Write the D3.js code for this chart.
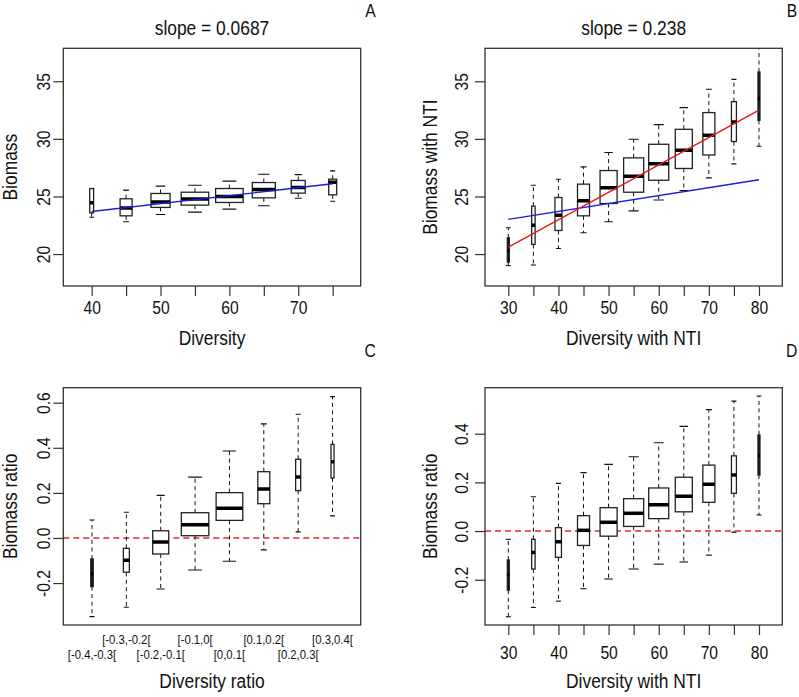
<!DOCTYPE html>
<meta charset="utf-8">
<style>
body { margin: 0; background: #fff; }
text { font-family: "Liberation Sans", Arial, sans-serif; fill: #111; }
</style>
<body>
  <div id="box1"></div>
</body>
<script src="https://d3js.org/d3.v7.min.js"></script>
<script>

// ---- panel A : Biomass vs Diversity
var divA   = [40, 45, 50, 55, 60, 65, 70, 75]
var loA    = [23.2, 22.8, 23.44, 23.64, 23.9, 24.19, 24.85, 24.59]
var q1A    = [23.58, 23.32, 24.05, 24.25, 24.48, 24.88, 25.29, 25.14]
var medA   = [24.45, 24.0, 24.53, 24.79, 25.0, 25.6, 25.78, 26.24]
var q3A    = [25.69, 24.8, 25.26, 25.37, 25.69, 26.21, 26.39, 26.5]
var hiA    = [25.69, 25.55, 25.9, 25.98, 26.33, 26.93, 26.9, 27.22]
var nA     = [10, 95, 240, 500, 500, 350, 130, 42]

// ---- panel B : Biomass with NTI vs Diversity with NTI
var divB   = [30, 35, 40, 45, 50, 55, 60, 65, 70, 75, 80]
var loB    = [19.0, 19.05, 20.49, 21.85, 22.8, 23.75, 24.7, 25.52, 26.61, 27.83, 29.36]
var q1B    = [19.3, 20.84, 22.05, 23.32, 24.39, 25.37, 26.41, 27.43, 28.6, 29.77, 31.61]
var medB   = [20.3, 22.51, 23.38, 24.62, 25.75, 26.76, 27.83, 29.01, 30.31, 31.46, 33.5]
var q3B    = [21.41, 24.16, 24.91, 26.07, 27.25, 28.35, 29.53, 30.83, 32.28, 33.23, 35.8]
var hiB    = [22.28, 25.98, 26.5, 27.57, 28.81, 29.97, 31.24, 32.71, 34.3, 35.16, 38.5]
var nB     = [5, 15, 61, 180, 361, 500, 500, 361, 180, 31, 5]

// fitted lines (intercept, slope)
var fitBlue = [20.95, 0.0687]
var fitRed  = [13.46, 0.238]

// ---- panel C : Biomass ratio vs Diversity ratio (classes)
var classC = ["[-0.4,-0.3[", "[-0.3,-0.2[", "[-0.2,-0.1[", "[-0.1,0[", "[0,0.1[", "[0.1,0.2[", "[0.2,0.3[", "[0.3,0.4["]
var loC    = [-0.349, -0.307, -0.226, -0.142, -0.103, -0.053, 0.027, 0.098]
var q1C    = [-0.216, -0.152, -0.071, 0.01, 0.078, 0.152, 0.21, 0.266]
var medC   = [-0.16, -0.099, -0.018, 0.059, 0.132, 0.217, 0.27, 0.338]
var q3C    = [-0.093, -0.046, 0.032, 0.112, 0.201, 0.294, 0.349, 0.415]
var hiC    = [0.08, 0.114, 0.189, 0.27, 0.386, 0.506, 0.549, 0.627]
var nC     = [4, 24, 170, 500, 470, 95, 17, 6]

// ---- panel D : Biomass ratio vs Diversity with NTI
var divD   = [30, 35, 40, 45, 50, 55, 60, 65, 70, 75, 80]
var loD    = [-0.352, -0.314, -0.288, -0.237, -0.197, -0.156, -0.136, -0.127, -0.099, -0.005, 0.066]
var q1D    = [-0.243, -0.156, -0.108, -0.059, -0.021, 0.019, 0.051, 0.079, 0.118, 0.155, 0.23]
var medD   = [-0.18, -0.088, -0.044, 0.003, 0.036, 0.073, 0.108, 0.143, 0.192, 0.23, 0.31]
var q3D    = [-0.119, -0.034, 0.014, 0.063, 0.096, 0.133, 0.177, 0.221, 0.271, 0.309, 0.395]
var hiD    = [-0.034, 0.141, 0.196, 0.24, 0.274, 0.305, 0.363, 0.43, 0.499, 0.534, 0.555]
var nD     = [5, 15, 45, 180, 361, 500, 500, 361, 180, 31, 5]

var ticksBio   = [20, 25, 30, 35]
var ticksRatC  = [-0.2, 0, 0.2, 0.4, 0.6]
var ticksRatD  = [-0.2, 0, 0.2, 0.4]


var width = 799, height = 697
var squeeze = 0.87

var svg = d3.select('#box1').append('svg')
    .attr('width', width)
    .attr('height', height)

function label(g, x, y, s, size, rot, anchor) {
  return g.append('text')
    .attr('transform', 'translate(' + x + ',' + y + ') rotate(' + (rot || 0) + ') scale(' + squeeze + ',1)')
    .attr('text-anchor', anchor || 'middle')
    .style('font-size', size + 'px')
    .text(s)
}

function drawPanel(p) {
  var x = d3.scaleLinear().domain(p.xdom).range([p.left, p.right])
  var y = d3.scaleLinear().domain(p.ydom).range([p.bottom, p.top])
  var step = Math.abs(x(p.at[1]) - x(p.at[0]))
  var w = d3.scaleSqrt().domain([0, d3.max(p.n)]).range([0, 0.8 * step])

  var rows = p.at.map(function(a, i) {
    return {x: a, lo: p.lo[i], q1: p.q1[i], med: p.med[i], q3: p.q3[i], hi: p.hi[i], w: w(p.n[i])}
  })

  svg.append('clipPath').attr('id', 'clip' + p.name)
    .append('rect')
      .attr('x', p.left).attr('y', p.top)
      .attr('width', p.right - p.left).attr('height', p.bottom - p.top)

  var g = svg.append('g').attr('clip-path', 'url(#clip' + p.name + ')')

  if (p.zero) {
    g.append('line')
      .attr('x1', p.left).attr('x2', p.right)
      .attr('y1', y(0)).attr('y2', y(0))
      .attr('stroke', '#e8262a').attr('stroke-width', 1.4)
      .attr('stroke-dasharray', '6,4')
  }

  // whiskers
  g.selectAll('.wu').data(rows.filter(d => d.hi > d.q3)).join('line')
    .attr('x1', d => x(d.x)).attr('x2', d => x(d.x))
    .attr('y1', d => y(d.q3)).attr('y2', d => y(d.hi))
    .attr('stroke', '#111').attr('stroke-dasharray', '4,3.5')
  g.selectAll('.wl').data(rows.filter(d => d.lo < d.q1)).join('line')
    .attr('x1', d => x(d.x)).attr('x2', d => x(d.x))
    .attr('y1', d => y(d.q1)).attr('y2', d => y(d.lo))
    .attr('stroke', '#111').attr('stroke-dasharray', '4,3.5')

  // staples
  ;['hi', 'lo'].forEach(function(k) {
    g.selectAll('.st' + k).data(rows).join('line')
      .attr('x1', d => x(d.x) - Math.max(d.w / 4, 2.5))
      .attr('x2', d => x(d.x) + Math.max(d.w / 4, 2.5))
      .attr('y1', d => y(d[k])).attr('y2', d => y(d[k]))
      .attr('stroke', '#111').attr('stroke-width', 1.1)
  })

  // boxes (very narrow ones collapse into a solid bar, as in R)
  g.selectAll('.box').data(rows).join('rect')
    .attr('x', d => x(d.x) - d.w / 2)
    .attr('width', d => d.w)
    .attr('y', d => y(d.q3))
    .attr('height', d => y(d.q1) - y(d.q3))
    .attr('fill', d => d.w < 3 ? '#111' : '#fff')
    .attr('stroke', '#222').attr('stroke-width', 1.3)

  g.selectAll('.med').data(rows).join('line')
    .attr('x1', d => x(d.x) - d.w / 2).attr('x2', d => x(d.x) + d.w / 2)
    .attr('y1', d => y(d.med)).attr('y2', d => y(d.med))
    .attr('stroke', '#000').attr('stroke-width', 3.5)

  // fitted lines
  ;(p.fits || []).forEach(function(f) {
    var x0 = p.at[0], x1 = p.at[p.at.length - 1]
    g.append('line')
      .attr('x1', x(x0)).attr('x2', x(x1))
      .attr('y1', y(f.coef[0] + f.coef[1] * x0))
      .attr('y2', y(f.coef[0] + f.coef[1] * x1))
      .attr('stroke', f.color).attr('stroke-width', 1.4)
  })

  // frame
  svg.append('rect')
    .attr('x', p.left).attr('y', p.top)
    .attr('width', p.right - p.left).attr('height', p.bottom - p.top)
    .attr('fill', 'none').attr('stroke', '#333').attr('stroke-width', 1.3)

  // y axis
  var ya = svg.append('g')
    .attr('transform', 'translate(' + p.left + ',0)')
    .call(d3.axisLeft(y).tickValues(p.yticks).tickSize(10).tickSizeOuter(0)
      .tickFormat(p.yfmt))
  ya.select('.domain').remove()
  ya.selectAll('line').attr('stroke', '#333').attr('stroke-width', 1.2)
  ya.selectAll('text')
    .attr('x', null).attr('dy', null)
    .attr('text-anchor', 'middle')
    .attr('transform', 'translate(' + (-p.ylabOff) + ',0) rotate(-90) scale(' + squeeze + ',1)')
    .style('font-size', '18px').style('font-family', null).attr('fill', '#111')

  // x axis
  if (p.xticks) {
    var xa = svg.append('g')
      .attr('transform', 'translate(0,' + p.bottom + ')')
      .call(d3.axisBottom(x).tickValues(p.xticks).tickSize(10).tickSizeOuter(0)
        .tickFormat(d => d % 10 === 0 ? d : ''))
    xa.select('.domain').remove()
    xa.selectAll('line').attr('stroke', '#333').attr('stroke-width', 1.2)
    xa.selectAll('text')
      .attr('y', null).attr('dy', null)
      .attr('transform', 'translate(0,' + p.xlabOff + ') scale(' + squeeze + ',1)')
      .style('font-size', '18px').style('font-family', null).attr('fill', '#111')
  }
  if (p.classes) {
    p.classes.forEach(function(c, i) {
      label(svg, x(p.at[i]), p.bottom + (i % 2 === 0 ? 34 : 19), c, 13)
    })
  }

  // titles
  var cx = (p.left + p.right) / 2
  label(svg, cx, p.bottom + p.xtitleOff, p.xtitle, 20)
  label(svg, p.left - p.ytitleOff, (p.top + p.bottom) / 2, p.ytitle, 20, -90)
  if (p.title) label(svg, cx, 35, p.title, 20)
  label(svg, p.right + 15, p.top - 31, p.letter, 18, 0, 'end')
}

var fmt1 = d => d.toFixed(1)

drawPanel({name: 'A', left: 63.3, right: 360.7, top: 48.3, bottom: 286,
  xdom: [35.88, 79.07], ydom: [17.23, 37.86],
  at: divA, lo: loA, q1: q1A, med: medA, q3: q3A, hi: hiA, n: nA,
  fits: [{coef: fitBlue, color: '#1c1cd6'}],
  xticks: divA, yticks: ticksBio, yfmt: d => d,
  ylabOff: 13.5, xlabOff: 28, ytitleOff: 46, xtitleOff: 59,
  xtitle: 'Diversity', ytitle: 'Biomass', title: 'slope = 0.0687', letter: 'A'})

drawPanel({name: 'B', left: 485, right: 782.3, top: 48.3, bottom: 286,
  xdom: [25.35, 84.65], ydom: [17.23, 37.86],
  at: divB, lo: loB, q1: q1B, med: medB, q3: q3B, hi: hiB, n: nB,
  fits: [{coef: fitBlue, color: '#1c1cd6'}, {coef: fitRed, color: '#e31a1c'}],
  xticks: divB, yticks: ticksBio, yfmt: d => d,
  ylabOff: 17, xlabOff: 28, ytitleOff: 48, xtitleOff: 59,
  xtitle: 'Diversity with NTI', ytitle: 'Biomass with NTI', title: 'slope = 0.238', letter: 'B'})

drawPanel({name: 'C', left: 63.3, right: 360.7, top: 387.7, bottom: 625,
  xdom: [0.165, 8.82], ydom: [-0.386, 0.6665],
  at: d3.range(1, classC.length + 1), lo: loC, q1: q1C, med: medC, q3: q3C, hi: hiC, n: nC,
  zero: true, classes: classC, yticks: ticksRatC, yfmt: fmt1,
  ylabOff: 13.5, ytitleOff: 46, xtitleOff: 63,
  xtitle: 'Diversity ratio', ytitle: 'Biomass ratio', letter: 'C'})

drawPanel({name: 'D', left: 485, right: 782.3, top: 387.7, bottom: 625,
  xdom: [25.35, 84.65], ydom: [-0.386, 0.589],
  at: divD, lo: loD, q1: q1D, med: medD, q3: q3D, hi: hiD, n: nD,
  zero: true, xticks: divD, yticks: ticksRatD, yfmt: fmt1,
  ylabOff: 17, xlabOff: 34, ytitleOff: 48, xtitleOff: 63,
  xtitle: 'Diversity with NTI', ytitle: 'Biomass ratio', letter: 'D'})

</script>
